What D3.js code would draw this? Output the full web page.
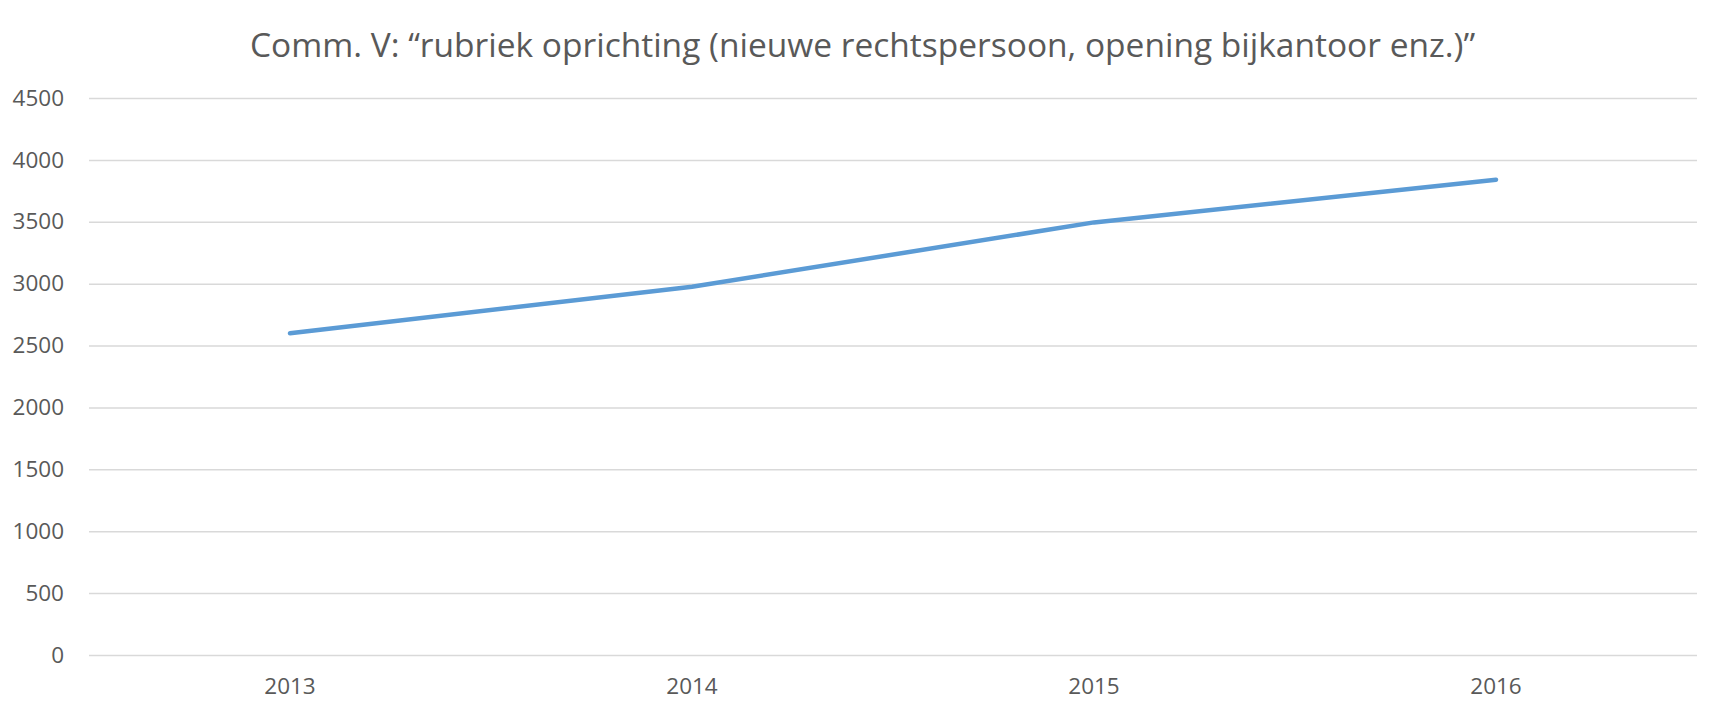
<!DOCTYPE html>
<html><head><meta charset="utf-8">
<script src="https://cdn.jsdelivr.net/npm/d3@7"></script>
<style>body{margin:0;background:#fff}svg{display:block}</style>
</head><body>
<script>
const title = "Comm. V: \u201crubriek oprichting (nieuwe rechtspersoon, opening bijkantoor enz.)\u201d";
const years = ["2013","2014","2015","2016"];
const values = [2600, 2975, 3495, 3840];
const yTicks = [0,500,1000,1500,2000,2500,3000,3500,4000,4500];

const W = 1725, H = 714;
const m = {left: 89, right: 28, top: 98, bottom: 59};
const svg = d3.select("body").append("svg").attr("width", W).attr("height", H);
const font = "'Open Sans', sans-serif";

const x = d3.scaleBand().domain(years).range([m.left, W - m.right]);
const y = d3.scaleLinear().domain([0, 4500]).range([H - m.bottom, m.top]);

svg.append("text").attr("x", (240+1485)/2).attr("y", 57).attr("text-anchor","middle")
  .attr("font-family", font).attr("font-size", 33.5).attr("fill", "#595959").text(title);

const ya = svg.append("g").attr("transform", `translate(${m.left},0)`)
  .call(d3.axisLeft(y).tickValues(yTicks).tickSize(-(W - m.left - m.right)).tickPadding(25).tickFormat(d3.format("d")));
ya.select(".domain").remove();
ya.selectAll("line").attr("stroke", "#d9d9d9").attr("stroke-width", 1.5);
ya.selectAll("text").attr("font-family", font).attr("font-size", 22.5).attr("fill", "#595959");

const xa = svg.append("g").attr("transform", `translate(0,${H - m.bottom})`)
  .call(d3.axisBottom(x).tickSize(0).tickPadding(23));
xa.select(".domain").remove();
xa.selectAll("text").attr("font-family", font).attr("font-size", 22.5).attr("fill", "#595959");

const line = d3.line().x((d,i) => x(years[i]) + x.bandwidth()/2).y(d => y(d));
svg.append("path").datum(values).attr("d", line).attr("fill","none")
  .attr("stroke","#5b9bd5").attr("stroke-width",4.5).attr("stroke-linecap","round").attr("stroke-linejoin","round");
</script>
</body></html>
